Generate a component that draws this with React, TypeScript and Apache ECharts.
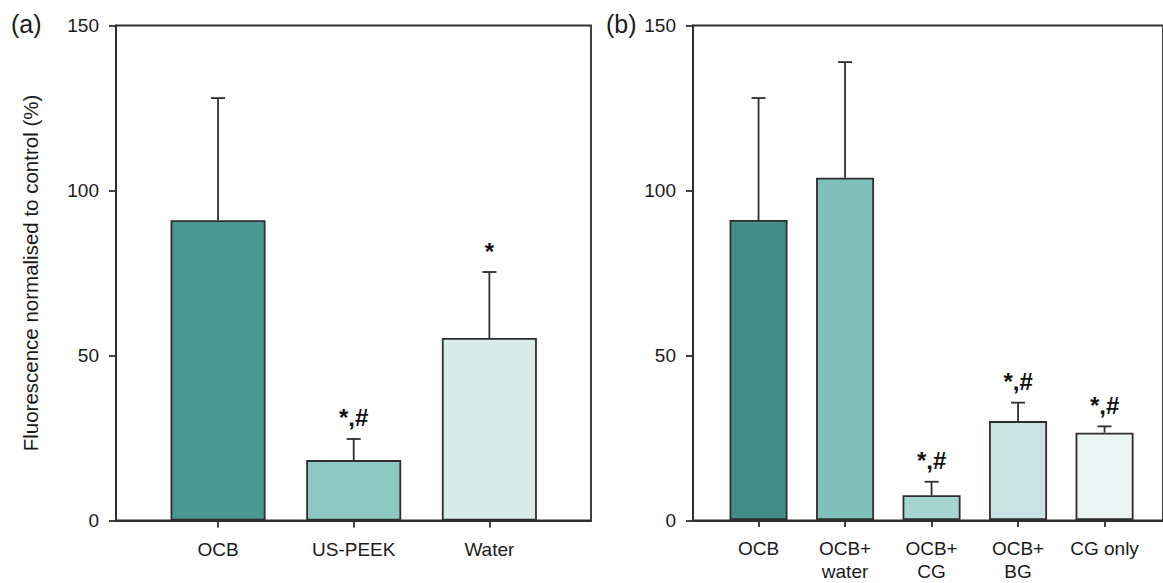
import React, { useEffect, useRef } from "react";
import * as echarts from "echarts";

const FONT = "'Liberation Sans', Arial, sans-serif";
const INK = "#2e2e2e";
const TXT = "#1a1a1a";

const yTicks = [0, 50, 100, 150];

const catsA = ["OCB", "US-PEEK", "Water"];
const meanA = [91, 18.3, 55.3];
const errA = [37, 6.4, 20];
const sigA = ["", "*,#", "*"];
const colorsA = ["#4a9892", "#8ec8c3", "#d9ecea"];

const catsB = ["OCB", "OCB+\nwater", "OCB+\nCG", "OCB+\nBG", "CG only"];
const meanB = [91, 103.8, 7.5, 30, 26.5];
const errB = [37, 35.1, 4.1, 5.6, 1.9];
const sigB = ["", "", "*,#", "*,#", "*,#"];
const colorsB = ["#448d87", "#80c0bb", "#a6d4d0", "#c8e3e2", "#eaf5f4"];

const TOP = 25.5;
const HEIGHT = 495;

function errSeries(idx: number, mean: number[], err: number[], sig: string[]) {
  return {
    type: "custom",
    xAxisIndex: idx,
    yAxisIndex: idx,
    z: 5,
    data: mean.map((m, i) => [i, m, err[i]]),
    renderItem: (params: any, api: any) => {
      const i = api.value(0);
      const m = api.value(1);
      const e = api.value(2);
      const base = api.coord([i, m]);
      const top = api.coord([i, m + e]);
      const half = 7;
      const style = { stroke: INK, lineWidth: 1.8 };
      return {
        type: "group",
        children: [
          { type: "line", shape: { x1: base[0], y1: base[1], x2: top[0], y2: top[1] }, style },
          { type: "line", shape: { x1: top[0] - half, y1: top[1], x2: top[0] + half, y2: top[1] }, style },
          {
            type: "text",
            x: top[0],
            y: top[1] - 21,
            style: {
              text: sig[params.dataIndex],
              fill: "#111",
              font: `bold 24px ${FONT}`,
              align: "center",
              verticalAlign: "middle",
            },
          },
        ],
      };
    },
  };
}

export default function App() {
  const ref = useRef<HTMLDivElement>(null);
  useEffect(() => {
    if (!ref.current) return;
    const chart = echarts.init(ref.current, undefined, { renderer: "svg" });
    const frameY = (withName: boolean) => ({
      type: "value",
      min: 0,
      max: 150,
      interval: 50,
      axisLine: { show: true, lineStyle: { color: INK, width: 1.8 } },
      axisTick: { show: true, length: 7, lineStyle: { color: INK, width: 1.8 } },
      axisLabel: {
        margin: 17,
        fontSize: 19,
        color: TXT,
        fontFamily: FONT,
        formatter: (v: number) => (yTicks.includes(v) ? String(v) : ""),
      },
      splitLine: { show: false },
      name: withName ? "Fluorescence normalised to control (%)" : "",
      nameLocation: "middle",
      nameGap: 75,
      nameTextStyle: { fontSize: 20.5, color: TXT, fontFamily: FONT },
    });
    const hiddenY = {
      type: "value",
      min: 0,
      max: 150,
      show: false,
    };
    const frameX = {
      type: "value",
      min: 0,
      max: 1,
      axisLine: { show: true, lineStyle: { color: INK, width: 1.8 } },
      axisTick: { show: false },
      axisLabel: { show: false },
      splitLine: { show: false },
    };
    const catX = (cats: string[]) => ({
      type: "category",
      data: cats,
      axisLine: { show: false },
      axisTick: { show: true, alignWithLabel: true, length: 7, lineStyle: { color: INK, width: 1.8 } },
      axisLabel: {
        margin: 17,
        fontSize: 19,
        lineHeight: 23,
        color: TXT,
        fontFamily: FONT,
        interval: 0,
      },
    });
    const gridFrame = (left: number, width: number) => ({
      left,
      width,
      top: TOP,
      height: HEIGHT,
      show: true,
      borderColor: INK,
      borderWidth: 1.8,
      backgroundColor: "transparent",
    });
    const gridBars = (left: number, width: number) => ({
      left,
      width,
      top: TOP,
      height: HEIGHT,
    });
    chart.setOption({
      animation: false,
      backgroundColor: "#ffffff",
      grid: [
        gridFrame(116, 475),
        gridBars(150.2, 407),
        gridFrame(693, 476),
        gridBars(715.3, 432.5),
      ],
      xAxis: [
        { ...frameX, gridIndex: 0 },
        { ...catX(catsA), gridIndex: 1 },
        { ...frameX, gridIndex: 2 },
        { ...catX(catsB), gridIndex: 3 },
      ],
      yAxis: [
        { ...frameY(true), gridIndex: 0 },
        { ...hiddenY, gridIndex: 1 },
        { ...frameY(false), gridIndex: 2 },
        { ...hiddenY, gridIndex: 3 },
      ],
      series: [
        {
          type: "bar",
          xAxisIndex: 1,
          yAxisIndex: 1,
          barWidth: 95,
          z: 3,
          data: meanA.map((v, i) => ({
            value: v,
            itemStyle: { color: colorsA[i], borderColor: INK, borderWidth: 1.8 },
          })),
        },
        errSeries(1, meanA, errA, sigA),
        {
          type: "bar",
          xAxisIndex: 3,
          yAxisIndex: 3,
          barWidth: 58,
          z: 3,
          data: meanB.map((v, i) => ({
            value: v,
            itemStyle: { color: colorsB[i], borderColor: INK, borderWidth: 1.8 },
          })),
        },
        errSeries(3, meanB, errB, sigB),
      ],
      graphic: [
        {
          type: "text",
          x: 11,
          y: 24,
          style: { text: "(a)", font: `25px ${FONT}`, fill: TXT, verticalAlign: "middle" },
        },
        {
          type: "text",
          x: 606,
          y: 24,
          style: { text: "(b)", font: `25px ${FONT}`, fill: TXT, verticalAlign: "middle" },
        },
      ],
    });
    return () => chart.dispose();
  }, []);
  return (
    <div
      ref={ref}
      style={{ position: "fixed", left: 0, top: 0, width: 1163, height: 583 }}
    />
  );
}
